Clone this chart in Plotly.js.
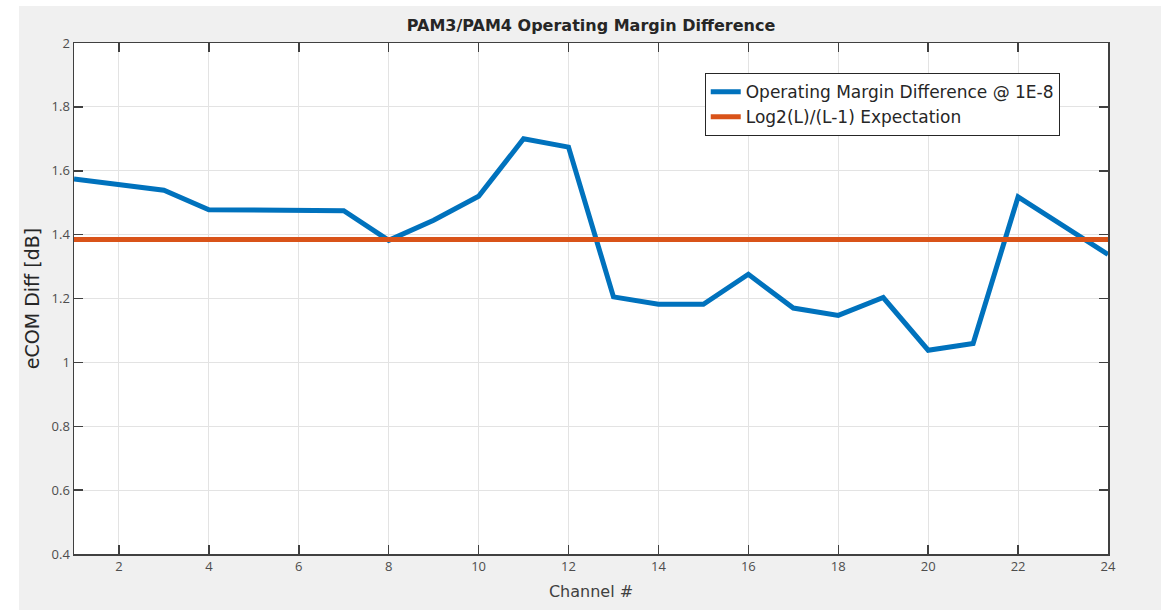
<!DOCTYPE html>
<html>
<head>
<meta charset="utf-8">
<script src="https://cdn.plot.ly/plotly-3.0.1.min.js"></script>
<style>
html,body{margin:0;padding:0;background:#ffffff;}
#chart{position:absolute;left:19px;top:6px;width:1142px;height:604px;}
</style>
</head>
<body>
<div id="chart"></div>
<script>
const channels = [1,2,3,4,5,6,7,8,9,10,11,12,13,14,15,16,17,18,19,20,21,22,23,24];
const marginDiff = [1.574,1.556,1.539,1.478,1.478,1.475,1.475,1.382,1.445,1.520,1.700,1.674,1.205,1.182,1.182,1.276,1.170,1.147,1.203,1.038,1.059,1.518,1.428,1.338];
const expectX = [1,24];
const expectY = [1.385,1.385];
const xTickVals = [2,4,6,8,10,12,14,16,18,20,22,24];
const xTickText = ['2','4','6','8','10','12','14','16','18','20','22','24'];
const yTickVals = [0.4,0.6,0.8,1,1.2,1.4,1.6,1.8,2];
const yTickText = ['0.4','0.6','0.8','1','1.2','1.4','1.6','1.8','2'];

const font = '"DejaVu Sans", sans-serif';
const tickFont = '"Open Sans", "DejaVu Sans", sans-serif';
const axisColor = '#404040';

const traces = [
  {x: channels, y: marginDiff, type:'scatter', mode:'lines',
   name:'Operating Margin Difference @ 1E-8',
   line:{color:'#0072BD', width:5}},
  {x: expectX, y: expectY, type:'scatter', mode:'lines',
   name:'Log2(L)/(L-1) Expectation',
   line:{color:'#D95319', width:5}}
];

const layout = {
  width:1142, height:604,
  paper_bgcolor:'#f0f0f0',
  plot_bgcolor:'#ffffff',
  margin:{l:55, r:53, t:37, b:56},
  showlegend:true,
  title:{text:'<b>PAM3/PAM4 Operating Margin Difference</b>', font:{family:font, size:16, color:'#262626'},
         x:0.5, xanchor:'center', xref:'paper', y:0.968, yanchor:'middle', yref:'container'},
  xaxis:{range:[1,24], tickvals:xTickVals, ticktext:xTickText,
         showgrid:true, gridcolor:'#e3e3e3', gridwidth:1,
         zeroline:false, showline:true, linecolor:axisColor, linewidth:1.5, mirror:'ticks',
         ticks:'inside', ticklen:9, tickcolor:axisColor, tickwidth:1.5,
         tickfont:{family:tickFont, size:13, color:'#4d4d4d'},
         title:{text:'Channel #', font:{family:font, size:16, color:'#404040'}, standoff:11}},
  yaxis:{range:[0.4,2], tickvals:yTickVals, ticktext:yTickText,
         showgrid:true, gridcolor:'#e3e3e3', gridwidth:1,
         zeroline:false, showline:true, linecolor:axisColor, linewidth:1.5, mirror:'ticks',
         ticks:'inside', ticklen:9, tickcolor:axisColor, tickwidth:1.5,
         tickfont:{family:tickFont, size:13, color:'#4d4d4d'},
         title:{text:'eCOM Diff [dB]', font:{family:font, size:19, color:'#262626'}, standoff:7}},
  legend:{x:0.610, y:0.941, xanchor:'left', yanchor:'top',
          bgcolor:'#ffffff', bordercolor:'#262626', borderwidth:1,
          font:{family:font, size:17, color:'#262626'}}
};

Plotly.newPlot('chart', traces, layout, {displayModeBar:false, staticPlot:true});
</script>
</body>
</html>
